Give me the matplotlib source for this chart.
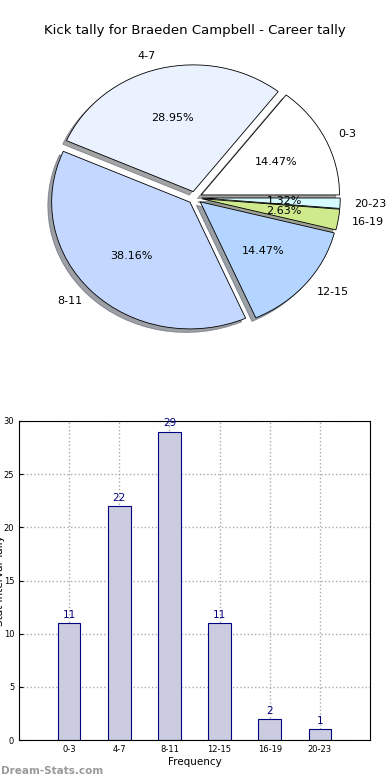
import matplotlib
matplotlib.use('Agg')
import matplotlib.pyplot as plt
import numpy as np

# Career kick tally by interval
intervals = ['0-3', '4-7', '8-11', '12-15', '16-19', '20-23']
tally = [11, 22, 29, 11, 2, 1]
pie_colors = ['#ffffff', '#eaf1ff', '#c4d8ff', '#b3d5ff', '#cfea8c', '#d5fbff']
explode = [0.05] * len(tally)

fig = plt.figure(figsize=(3.9, 7.8), dpi=100)

# Pie chart (old-style, not forced to equal aspect)
# ---------
ax1 = fig.add_axes([0.0513, 0.522, 0.897, 0.449], frame_on=False)
ax1.pie(tally, labels=intervals, colors=pie_colors, explode=explode,
        autopct='%1.2f%%', shadow=True, startangle=0,
        wedgeprops={'edgecolor': 'black', 'linewidth': 0.6},
        textprops={'fontsize': 8})
ax1.set_aspect('auto')
ax1.set_xlim(-1.264, 1.264)
ax1.set_ylim(-1.382, 1.382)
fig.text(0.5, 0.961, 'Kick tally for Braeden Campbell - Career tally',
         ha='center', va='center', fontsize=9.5)

# Bar chart
# ---------
ax2 = fig.add_axes([19/390, 40/780, 351/390, 319/780])
x = np.arange(len(intervals))
ax2.bar(x, tally, width=0.45, color='#cccce0', edgecolor='navy', linewidth=0.8,
        zorder=2)
for xi, v in zip(x, tally):
    ax2.text(xi, v + 0.3, str(v), ha='center', va='bottom', color='navy',
             fontsize=7.5)
ax2.set_xlim(-1, 6)
ax2.set_ylim(0, 30)
ax2.set_xticks(x)
ax2.set_xticklabels(intervals)
ax2.set_yticks(range(0, 31, 5))
ax2.tick_params(labelsize=6, direction='in', length=3)
ax2.grid(True, ls=':', color='#aaaaaa', lw=1)
ax2.set_axisbelow(True)
ax2.set_xlabel('Frequency', fontsize=7.5, labelpad=2)
fig.text(-0.014, 0.256, 'Stat Interval Tally', rotation=90, ha='left',
         va='center', fontsize=7.5)

fig.text(0.002, 0.012, 'Dream-Stats.com', fontsize=7.5, fontweight='bold',
         color='#999999', ha='left', va='center')

plt.savefig('out.png', dpi=100)
plt.close()
